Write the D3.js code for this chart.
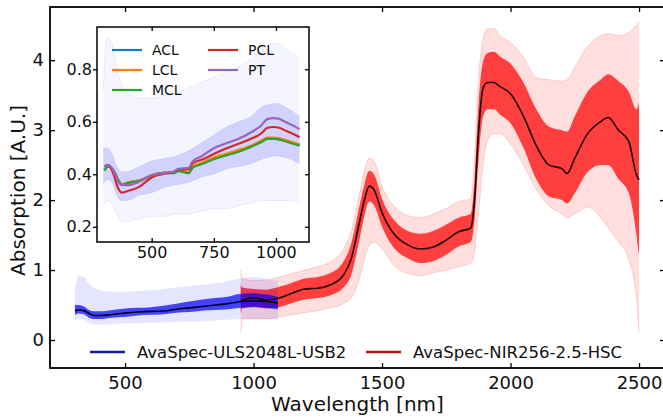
<!DOCTYPE html>
<html>
<head>
<meta charset="utf-8">
<script src="https://cdn.jsdelivr.net/npm/d3@7"></script>
<style>
  body { margin: 0; background: #fff; }
  text { font-family: "DejaVu Sans", sans-serif; fill: #111; }
</style>
</head>
<body>
<svg id="chart" width="663" height="419"></svg>
<script>
// ---- AvaSpec-ULS2048L-USB2 (blue) : spread of spectra
const blueWl      = [305, 320, 340, 360, 380, 400, 450, 500, 550, 600, 650, 700, 750, 800, 850, 900, 950, 1000, 1050, 1095];
const blueMean    = [0.42, 0.43, 0.42, 0.38, 0.35, 0.35, 0.365, 0.385, 0.40, 0.41, 0.415, 0.44, 0.46, 0.48, 0.50, 0.52, 0.55, 0.56, 0.55, 0.53];
const blueOuterLo = [0.28, 0.30, 0.29, 0.25, 0.22, 0.22, 0.23, 0.24, 0.24, 0.25, 0.25, 0.26, 0.27, 0.27, 0.28, 0.29, 0.30, 0.30, 0.30, 0.29];
const blueOuterHi = [0.72, 0.92, 0.90, 0.80, 0.74, 0.71, 0.69, 0.69, 0.70, 0.71, 0.73, 0.75, 0.77, 0.79, 0.81, 0.84, 0.88, 0.90, 0.87, 0.84];
const blueInnerLo = [0.36, 0.38, 0.37, 0.32, 0.30, 0.30, 0.32, 0.33, 0.35, 0.36, 0.37, 0.39, 0.40, 0.42, 0.43, 0.44, 0.46, 0.47, 0.46, 0.44];
const blueInnerHi = [0.50, 0.50, 0.48, 0.43, 0.41, 0.41, 0.43, 0.45, 0.46, 0.47, 0.49, 0.52, 0.55, 0.58, 0.60, 0.62, 0.66, 0.67, 0.65, 0.62];

// ---- AvaSpec-NIR256-2.5-HSC (red)
const redWl      = [950, 956, 1000, 1050, 1100, 1150, 1200, 1250, 1300, 1350, 1380, 1410, 1430, 1450, 1470, 1500, 1550, 1600, 1650, 1700, 1750, 1800, 1845, 1860, 1875, 1893, 1910, 1935, 1960, 2000, 2050, 2100, 2150, 2200, 2220, 2250, 2300, 2350, 2380, 2420, 2460, 2490, 2500];
const redMean    = [0.55, 0.57, 0.60, 0.57, 0.60, 0.67, 0.73, 0.74, 0.79, 0.93, 1.16, 1.65, 1.98, 2.20, 2.14, 1.82, 1.50, 1.36, 1.30, 1.33, 1.43, 1.55, 1.60, 2.00, 2.95, 3.60, 3.68, 3.68, 3.62, 3.52, 3.20, 2.78, 2.50, 2.45, 2.38, 2.60, 2.95, 3.12, 3.18, 3.00, 2.84, 2.36, 2.29];
const redOuterHi = [1.00, 0.88, 0.85, 0.86, 0.90, 0.95, 1.00, 1.05, 1.12, 1.30, 1.55, 2.05, 2.40, 2.60, 2.55, 2.20, 1.90, 1.78, 1.75, 1.80, 1.88, 1.98, 2.02, 2.60, 3.70, 4.30, 4.45, 4.45, 4.35, 4.25, 4.05, 3.75, 3.72, 3.70, 3.72, 3.90, 4.20, 4.35, 4.38, 4.35, 4.40, 4.50, 4.55];
const redOuterLo = [0.10, 0.30, 0.30, 0.30, 0.33, 0.36, 0.39, 0.42, 0.46, 0.52, 0.60, 0.85, 1.15, 1.35, 1.40, 1.30, 1.05, 0.95, 0.92, 0.96, 1.00, 1.05, 1.10, 1.25, 1.80, 2.50, 2.85, 2.95, 2.95, 2.80, 2.50, 2.15, 1.92, 1.80, 1.75, 1.80, 1.90, 1.75, 1.60, 1.40, 1.15, 0.60, 0.10];
const redInnerHi = [0.80, 0.75, 0.73, 0.72, 0.76, 0.82, 0.88, 0.90, 0.96, 1.12, 1.38, 1.88, 2.20, 2.42, 2.36, 2.02, 1.70, 1.56, 1.52, 1.56, 1.65, 1.75, 1.80, 2.30, 3.35, 3.98, 4.10, 4.12, 4.05, 3.95, 3.68, 3.30, 3.05, 3.00, 2.98, 3.20, 3.55, 3.72, 3.80, 3.70, 3.55, 3.30, 3.40];
const redInnerLo = [0.38, 0.45, 0.48, 0.45, 0.47, 0.53, 0.58, 0.60, 0.64, 0.75, 0.93, 1.40, 1.75, 1.98, 1.92, 1.62, 1.30, 1.17, 1.10, 1.13, 1.22, 1.34, 1.40, 1.72, 2.55, 3.20, 3.30, 3.30, 3.22, 3.10, 2.75, 2.30, 2.05, 2.00, 1.95, 2.10, 2.40, 2.50, 2.50, 2.30, 2.10, 1.50, 1.20];

// ---- inset: class means of the blue spectra
const insetWl = [310, 325, 345, 365, 380, 410, 450, 500, 550, 590, 605, 650, 665, 700, 750, 800, 850, 900, 940, 965, 990, 1010, 1040, 1070, 1095];
const aclMean = [0.416, 0.431, 0.417, 0.379, 0.361, 0.369, 0.376, 0.396, 0.405, 0.406, 0.414, 0.407, 0.428, 0.440, 0.460, 0.475, 0.490, 0.507, 0.525, 0.537, 0.538, 0.535, 0.527, 0.518, 0.511];
const lclMean = [0.418, 0.432, 0.418, 0.380, 0.362, 0.370, 0.377, 0.397, 0.406, 0.408, 0.416, 0.410, 0.430, 0.443, 0.464, 0.478, 0.493, 0.510, 0.528, 0.540, 0.540, 0.538, 0.530, 0.521, 0.514];
const mclMean = [0.414, 0.430, 0.416, 0.378, 0.360, 0.368, 0.375, 0.395, 0.404, 0.404, 0.412, 0.404, 0.425, 0.438, 0.457, 0.472, 0.486, 0.505, 0.522, 0.535, 0.536, 0.533, 0.525, 0.516, 0.509];
const pclMean = [0.430, 0.435, 0.404, 0.347, 0.330, 0.338, 0.352, 0.388, 0.402, 0.410, 0.418, 0.420, 0.442, 0.455, 0.477, 0.498, 0.516, 0.535, 0.555, 0.576, 0.580, 0.578, 0.566, 0.553, 0.541];
const ptMean  = [0.430, 0.435, 0.416, 0.372, 0.359, 0.359, 0.372, 0.395, 0.405, 0.410, 0.420, 0.425, 0.450, 0.468, 0.499, 0.518, 0.535, 0.560, 0.585, 0.610, 0.614, 0.612, 0.598, 0.585, 0.572];
const insetNames  = ["ACL", "LCL", "MCL", "PCL", "PT"];
const insetColors = ["#1f77b4", "#ff7f0e", "#2ca02c", "#d62728", "#9467bd"];

const legendLabels = ["AvaSpec-ULS2048L-USB2", "AvaSpec-NIR256-2.5-HSC"];
const mainXTicks  = [500, 1000, 1500, 2000, 2500];
const mainYTicks  = [0, 1, 2, 3, 4];
const insetXTicks = [500, 750, 1000];
const insetYTicks = [0.2, 0.4, 0.6, 0.8];

const svg = d3.select("#chart");

// main axes box
const M = { left: 50, right: 665, top: 7, bottom: 368 };
const x = d3.scaleLinear().domain([208, 2601]).range([M.left, M.right]);
const y = d3.scaleLinear().domain([-0.4, 4.76]).range([M.bottom, M.top]);

// inset box
const I = { left: 97, right: 309, top: 27, bottom: 242 };
const xi = d3.scaleLinear().domain([280, 1133]).range([I.left, I.right]);
const yi = d3.scaleLinear().domain([0.142, 0.961]).range([I.bottom, I.top]);

const defs = svg.append("defs");
defs.append("clipPath").attr("id", "clipMain").append("rect")
  .attr("x", M.left).attr("y", M.top).attr("width", M.right - M.left).attr("height", M.bottom - M.top);
defs.append("clipPath").attr("id", "clipInset").append("rect")
  .attr("x", I.left).attr("y", I.top).attr("width", I.right - I.left).attr("height", I.bottom - I.top);

function band(wl, lo, hi, xs, ys) {
  return d3.area()
    .x((d, i) => xs(wl[i]))
    .y0((d, i) => ys(lo[i]))
    .y1((d, i) => ys(hi[i]))
    .curve(d3.curveMonotoneX)(wl);
}
function line(wl, v, xs, ys) {
  return d3.line()
    .x((d, i) => xs(wl[i]))
    .y((d, i) => ys(v[i]))
    .curve(d3.curveMonotoneX)(wl);
}

// ---- main data
const gm = svg.append("g").attr("clip-path", "url(#clipMain)");

gm.append("path").attr("d", band(redWl, redOuterLo, redOuterHi, x, y))
  .attr("fill", "#ff0000").attr("fill-opacity", 0.13);
gm.append("path").attr("d", band(redWl, redInnerLo, redInnerHi, x, y))
  .attr("fill", "#ff0000").attr("fill-opacity", 0.72);
[redOuterLo, redOuterHi].forEach(a => {
  gm.append("path").attr("d", line(redWl, a, x, y))
    .attr("fill", "none").attr("stroke", "#ff0000").attr("stroke-opacity", 0.15).attr("stroke-width", 1);
});

gm.append("path").attr("d", band(blueWl, blueOuterLo, blueOuterHi, x, y))
  .attr("fill", "#0000ff").attr("fill-opacity", 0.1);
gm.append("path").attr("d", band(blueWl, blueInnerLo, blueInnerHi, x, y))
  .attr("fill", "#0000ff").attr("fill-opacity", 0.7);

gm.append("path").attr("d", line(blueWl, blueMean, x, y))
  .attr("fill", "none").attr("stroke", "#000022").attr("stroke-width", 1.6);
gm.append("path").attr("d", line(redWl, redMean, x, y))
  .attr("fill", "none").attr("stroke", "#220000").attr("stroke-width", 1.6);

// ---- main legend
const legColors = ["#1a1aa6", "#b51a1a"];
const legX = [90, 366];
legendLabels.forEach((lab, i) => {
  svg.append("line").attr("x1", legX[i]).attr("x2", legX[i] + 35).attr("y1", 352).attr("y2", 352)
    .attr("stroke", legColors[i]).attr("stroke-width", 2.5);
  svg.append("text").attr("x", legX[i] + 47).attr("y", 358)
    .style("font-size", "16.5px").text(lab);
});

// ---- main frame and axes
svg.append("rect").attr("x", M.left).attr("y", M.top)
  .attr("width", M.right - M.left).attr("height", M.bottom - M.top)
  .attr("fill", "none").attr("stroke", "#000").attr("stroke-width", 1.8);

function styleAxis(g, fs) {
  g.select(".domain").remove();
  g.selectAll(".tick line").attr("stroke", "#000").attr("stroke-width", 1.3);
  g.selectAll(".tick text").style("font-size", fs).attr("fill", "#111")
    .style("font-family", "DejaVu Sans, sans-serif");
}

svg.append("g").attr("transform", `translate(0,${M.bottom})`)
  .call(d3.axisBottom(x).tickValues(mainXTicks).tickSizeInner(-5).tickSizeOuter(0).tickPadding(8).tickFormat(d3.format("d")))
  .call(g => styleAxis(g, "18px"));
svg.append("g").attr("transform", `translate(0,${M.top})`)
  .call(d3.axisTop(x).tickValues(mainXTicks).tickSizeInner(-5).tickSizeOuter(0).tickFormat(""))
  .call(g => styleAxis(g, "18px"));
svg.append("g").attr("transform", `translate(${M.left},0)`)
  .call(d3.axisLeft(y).tickValues(mainYTicks).tickSizeInner(-5).tickSizeOuter(0).tickPadding(6).tickFormat(d3.format("d")))
  .call(g => styleAxis(g, "18px"));
svg.append("g").attr("transform", `translate(${M.right},0)`)
  .call(d3.axisRight(y).tickValues(mainYTicks).tickSizeInner(-5).tickSizeOuter(0).tickFormat(""))
  .call(g => styleAxis(g, "18px"));

svg.append("text").attr("x", (M.left + M.right) / 2).attr("y", 411)
  .attr("text-anchor", "middle").style("font-size", "20px").text("Wavelength [nm]");
svg.append("text").attr("transform", `translate(25,${(M.top + M.bottom) / 2 + 3}) rotate(-90)`)
  .attr("text-anchor", "middle").style("font-size", "20px").text("Absorption [A.U.]");

// ---- inset
svg.append("rect").attr("x", I.left).attr("y", I.top)
  .attr("width", I.right - I.left).attr("height", I.bottom - I.top).attr("fill", "#fff");

const gi = svg.append("g").attr("clip-path", "url(#clipInset)");
gi.append("path").attr("d", band(blueWl, blueOuterLo, blueOuterHi, xi, yi))
  .attr("fill", "#0000ff").attr("fill-opacity", 0.04);
gi.append("path").attr("d", band(blueWl, blueInnerLo, blueInnerHi, xi, yi))
  .attr("fill", "#0000ff").attr("fill-opacity", 0.14);
[blueOuterLo, blueOuterHi, blueInnerLo, blueInnerHi].forEach(a => {
  gi.append("path").attr("d", line(blueWl, a, xi, yi))
    .attr("fill", "none").attr("stroke", "#0000ff").attr("stroke-opacity", 0.08).attr("stroke-width", 1);
});

const classMeans = [aclMean, lclMean, mclMean, pclMean, ptMean];
classMeans.forEach((m, i) => {
  gi.append("path").attr("d", line(insetWl, m, xi, yi))
    .attr("fill", "none").attr("stroke", insetColors[i]).attr("stroke-width", 2.2);
});

// inset legend, two columns
const ilX = [112, 208];
const ilY = [50, 70, 90];
insetNames.forEach((n, i) => {
  const c = i < 3 ? 0 : 1, r = i < 3 ? i : i - 3;
  svg.append("line").attr("x1", ilX[c]).attr("x2", ilX[c] + 30)
    .attr("y1", ilY[r]).attr("y2", ilY[r])
    .attr("stroke", insetColors[i]).attr("stroke-width", 2.2);
  svg.append("text").attr("x", ilX[c] + 40).attr("y", ilY[r] + 5)
    .style("font-size", "14px").text(n);
});

svg.append("rect").attr("x", I.left).attr("y", I.top)
  .attr("width", I.right - I.left).attr("height", I.bottom - I.top)
  .attr("fill", "none").attr("stroke", "#000").attr("stroke-width", 1.5);

svg.append("g").attr("transform", `translate(0,${I.bottom})`)
  .call(d3.axisBottom(xi).tickValues(insetXTicks).tickSizeInner(-4).tickSizeOuter(0).tickPadding(5).tickFormat(d3.format("d")))
  .call(g => styleAxis(g, "16px"));
svg.append("g").attr("transform", `translate(0,${I.top})`)
  .call(d3.axisTop(xi).tickValues(insetXTicks).tickSizeInner(-4).tickSizeOuter(0).tickFormat(""))
  .call(g => styleAxis(g, "16px"));
svg.append("g").attr("transform", `translate(${I.left},0)`)
  .call(d3.axisLeft(yi).tickValues(insetYTicks).tickSizeInner(4).tickSizeOuter(0).tickPadding(1).tickFormat(d3.format(".1f")))
  .call(g => styleAxis(g, "16px"));
svg.append("g").attr("transform", `translate(${I.right},0)`)
  .call(d3.axisRight(yi).tickValues(insetYTicks).tickSizeInner(-4).tickSizeOuter(0).tickFormat(""))
  .call(g => styleAxis(g, "16px"));
</script>
</body>
</html>
